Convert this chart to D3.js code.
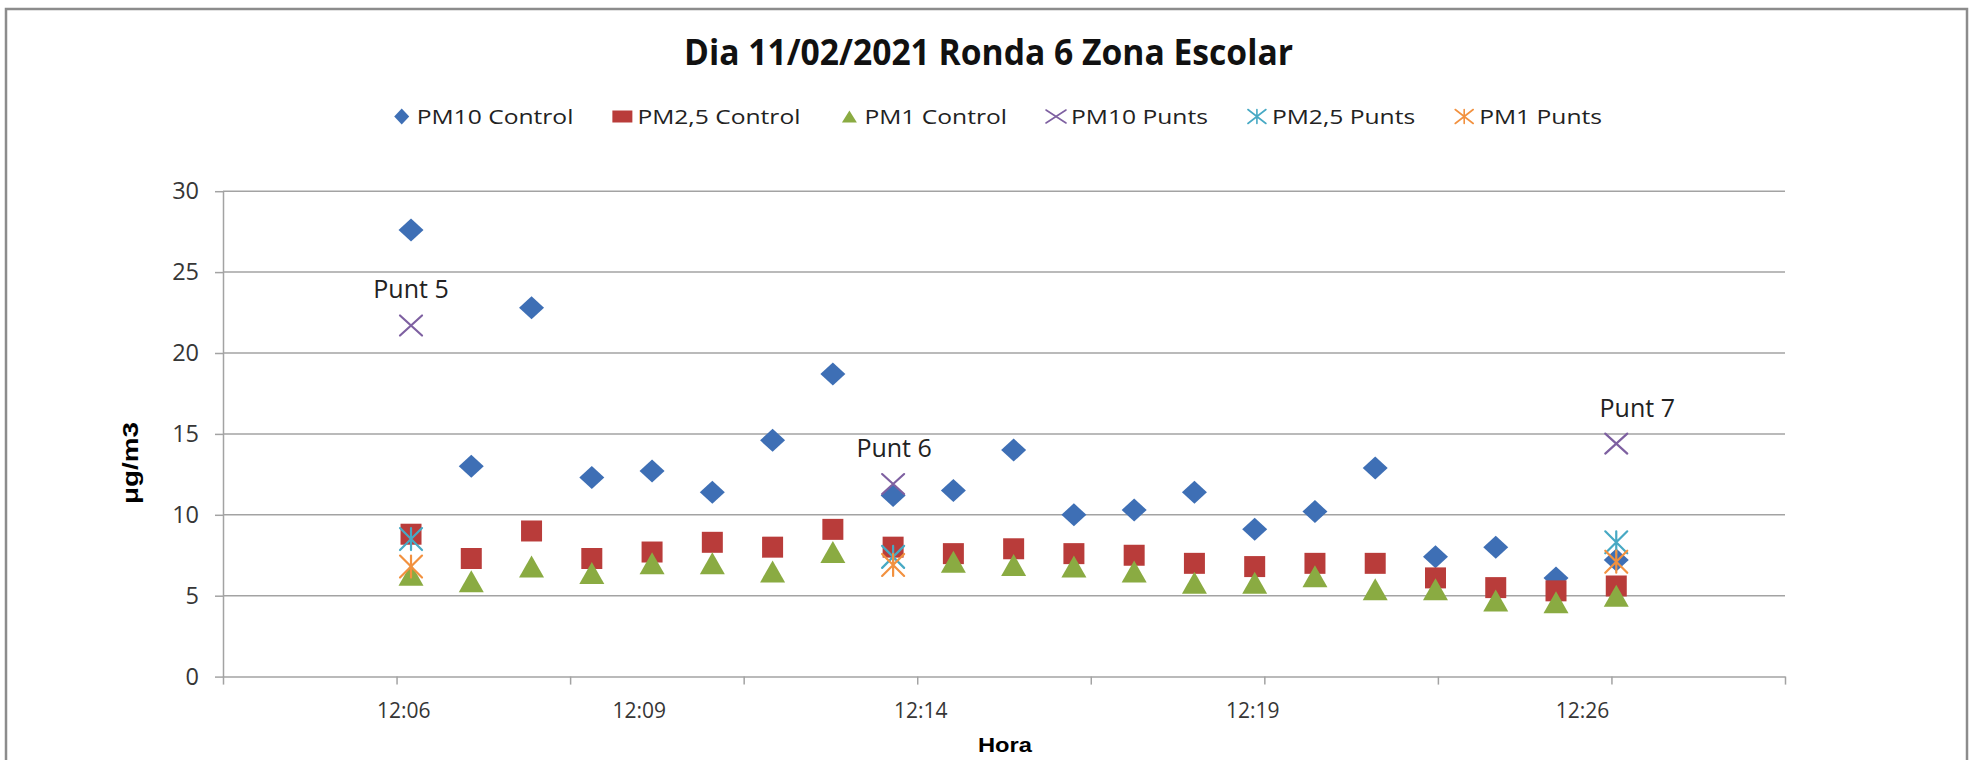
<!DOCTYPE html>
<html>
<head>
<meta charset="utf-8">
<script src="https://cdn.jsdelivr.net/npm/d3@7"></script>
<style>
    body { margin: 0; background: #fff; }
    text { font-family: "Open Sans", sans-serif; }
</style>
</head>
<body>
<script>
// measurement times (one reading per minute)
var times = ["12:06","12:07","12:08","12:09","12:10","12:11","12:12","12:13","12:14","12:15",
             "12:16","12:17","12:18","12:19","12:20","12:21","12:22","12:23","12:24","12:25","12:26"];

// control series, ug/m3
var pm10Control = [27.6, 13.0, 22.8, 12.3, 12.7, 11.4, 14.6, 18.7, 11.2, 11.5,
                   14.0, 10.0, 10.3, 11.4, 9.1, 10.2, 12.9, 7.4, 8.0, 6.1, 7.2];
var pm25Control = [8.8, 7.3, 9.0, 7.3, 7.7, 8.3, 8.0, 9.1, 8.0, 7.6,
                   7.9, 7.6, 7.5, 7.0, 6.8, 7.0, 7.0, 6.1, 5.5, 5.3, 5.6];
var pm1Control  = [6.3, 5.9, 6.8, 6.4, 7.0, 7.0, 6.5, 7.7, null, 7.1,
                   6.9, 6.8, 6.5, 5.8, 5.8, 6.2, 5.4, 5.4, 4.7, 4.6, 5.0];

// measurement points (Punts)
var puntTimes  = ["12:06", "12:14", "12:26"];
var puntLabels = ["Punt 5", "Punt 6", "Punt 7"];
var pm10Punts  = [21.7, 11.9, 14.4];
var pm25Punts  = [8.5, 7.4, 8.3];
var pm1Punts   = [6.8, 6.9, 7.1];

// axis settings
var yTicks = [0, 5, 10, 15, 20, 25, 30];
var xLabelTexts = ["12:06", "12:09", "12:14", "12:19", "12:26"];
var xLabelAt    = [725.87, 729.78, 734.45, 739.96, 745.43];   // minutes after midnight

var W = 1975, H = 760;
var toMin = function(s){ var p = s.split(":"); return +p[0] * 60 + +p[1]; };

var svg = d3.select("body").append("svg")
    .attr("width", W)
    .attr("height", H);

svg.append("rect")   // chart frame
    .attr("x", 6).attr("y", 9)
    .attr("width", 1961).attr("height", 800)
    .attr("fill", "#fff")
    .attr("stroke", "#8c8c8c")
    .attr("stroke-width", 2.5);

// Excel time axis: 0.502 .. 0.520 day, major unit 0.002 day
var x = d3.scaleLinear().domain([0.502 * 1440, 0.520 * 1440]).range([223, 1785]);
var y = d3.scaleLinear().domain([0, 30]).range([676.6, 191.2]);
var xTicks = d3.range(10).map(function(i){ return (0.502 + i * 0.002) * 1440; });

var gridColor = "#a3a3a3";

svg.append("g").selectAll("line")   // horizontal gridlines
    .data(yTicks.slice(1))
    .enter().append("line")
    .attr("x1", 223).attr("x2", 1785)
    .attr("y1", function(d){ return y(d); })
    .attr("y2", function(d){ return y(d); })
    .attr("stroke", gridColor)
    .attr("stroke-width", 1.5);

var yAxis = svg.append("g")
    .attr("transform", "translate(223,0)")
    .call(d3.axisLeft(y).tickValues(yTicks).tickSize(8).tickSizeOuter(0));
yAxis.select(".domain").attr("stroke", gridColor).attr("stroke-width", 1.5);
yAxis.selectAll(".tick line").attr("stroke", gridColor).attr("stroke-width", 1.5);
yAxis.selectAll(".tick text")
    .attr("x", -24)
    .style("font-size", "23.5px")
    .style("font-family", "Open Sans")
    .attr("fill", "#363636");

var xAxis = svg.append("g")
    .attr("transform", "translate(0," + y(0) + ")")
    .call(d3.axisBottom(x).tickValues(xTicks).tickSize(8).tickSizeOuter(0).tickFormat(""));
xAxis.select(".domain").attr("stroke", gridColor).attr("stroke-width", 1.5);
xAxis.selectAll(".tick line").attr("stroke", gridColor).attr("stroke-width", 1.5);

var xLabels = svg.append("g")
    .attr("transform", "translate(0," + y(0) + ")")
    .call(d3.axisBottom(x).tickValues(xLabelAt).tickSize(0)
        .tickFormat(function(d, i){ return xLabelTexts[i]; }));
xLabels.select(".domain").remove();
xLabels.selectAll(".tick text")
    .attr("y", 41).attr("dy", 0)
    .style("font-size", "21px")
    .style("font-family", "Open Sans")
    .attr("fill", "#363636");

// marker shapes, w x h centred on the point
function diamond(w, h){ return "M0," + (-h/2) + "L" + (w/2) + ",0L0," + (h/2) + "L" + (-w/2) + ",0Z"; }
function square(w, h){ return "M" + (-w/2) + "," + (-h/2) + "h" + w + "v" + h + "h" + (-w) + "Z"; }
function triangle(w, h){ return "M0," + (-h/2) + "L" + (w/2) + "," + (h/2) + "L" + (-w/2) + "," + (h/2) + "Z"; }
function cross(w, h){ return "M" + (-w/2) + "," + (-h/2) + "L" + (w/2) + "," + (h/2) +
                             "M" + (w/2) + "," + (-h/2) + "L" + (-w/2) + "," + (h/2); }
function star(w, h){ return cross(w, h) + "M0," + (-h/2) + "L0," + (h/2); }

var series = [
    {name: "PM10 Control",  t: times,     v: pm10Control, shape: diamond,  size: [25, 23], legend: [15, 16], color: "#3e6fb5", filled: true},
    {name: "PM2,5 Control", t: times,     v: pm25Control, shape: square,   size: [21, 21], legend: [20, 12], color: "#b93c3a", filled: true},
    {name: "PM1 Control",   t: times,     v: pm1Control,  shape: triangle, size: [25, 22], legend: [15, 12], color: "#8aab42", filled: true},
    {name: "PM10 Punts",    t: puntTimes, v: pm10Punts,   shape: cross,    size: [22, 20], legend: [20, 13], color: "#7e60a1", filled: false},
    {name: "PM2,5 Punts",   t: puntTimes, v: pm25Punts,   shape: star,     size: [22, 22], legend: [18, 14], color: "#47a9c4", filled: false},
    {name: "PM1 Punts",     t: puntTimes, v: pm1Punts,    shape: star,     size: [22, 22], legend: [18, 14], color: "#f2913f", filled: false}
];

function styleMarker(sel, s){
    if (s.filled) sel.attr("fill", s.color).attr("stroke", "none");
    else sel.attr("fill", "none").attr("stroke", s.color).attr("stroke-width", 2.2).attr("stroke-linecap", "round");
}

series.forEach(function(s){
    var pts = s.v.map(function(d, i){ return {t: toMin(s.t[i]), v: d}; })
        .filter(function(d){ return d.v != null; });
    var g = svg.append("g").attr("class", "series");
    g.selectAll("path")
        .data(pts)
        .enter().append("path")
        .attr("transform", function(d){ return "translate(" + x(d.t) + "," + y(d.v) + ")"; })
        .attr("d", s.shape(s.size[0], s.size[1]))
        .call(styleMarker, s);
});

// Punt labels above the PM10 Punts markers
var puntDx = [0, 1, 21];
svg.append("g").selectAll("text")
    .data(puntLabels)
    .enter().append("text")
    .attr("x", function(d, i){ return x(toMin(puntTimes[i])) + puntDx[i]; })
    .attr("y", function(d, i){ return y(pm10Punts[i]) - 27; })
    .attr("text-anchor", "middle")
    .style("font-size", "25px")
    .attr("fill", "#222")
    .text(function(d){ return d; });

// title
svg.append("text")
    .attr("x", 988.5).attr("y", 65)
    .attr("text-anchor", "middle")
    .style("font-size", "36px")
    .style("font-weight", "bold")
    .attr("fill", "#111")
    .attr("textLength", 609)
    .attr("lengthAdjust", "spacingAndGlyphs")
    .text("Dia 11/02/2021 Ronda 6 Zona Escolar");

// legend
var lx = 401.7, ly = 116.5;
series.forEach(function(s){
    var m = svg.append("path")
        .attr("transform", "translate(" + lx + "," + ly + ")")
        .attr("d", s.shape(s.legend[0], s.legend[1]))
        .call(styleMarker, s);
    if (!s.filled) m.attr("stroke-width", 1.6);
    var t = svg.append("text")
        .attr("x", lx + 15).attr("y", ly + 7)
        .style("font-size", "20.5px")
        .attr("fill", "#222")
        .text(s.name);
    var len = t.node().getComputedTextLength() * 1.2;
    t.attr("textLength", len).attr("lengthAdjust", "spacingAndGlyphs");
    lx += 15 + len + 49;
});

// axis titles
svg.append("text")
    .attr("transform", "translate(138,463) rotate(-90)")
    .attr("text-anchor", "middle")
    .style("font-family", "Liberation Sans, Arial, sans-serif")
    .style("font-size", "22px")
    .style("font-weight", "bold")
    .attr("textLength", 82)
    .attr("lengthAdjust", "spacingAndGlyphs")
    .text("μg/m3");

svg.append("text")
    .attr("x", 1005).attr("y", 752)
    .attr("text-anchor", "middle")
    .style("font-family", "Liberation Sans, Arial, sans-serif")
    .style("font-size", "21px")
    .style("font-weight", "bold")
    .attr("textLength", 54)
    .attr("lengthAdjust", "spacingAndGlyphs")
    .text("Hora");
</script>
</body>
</html>
